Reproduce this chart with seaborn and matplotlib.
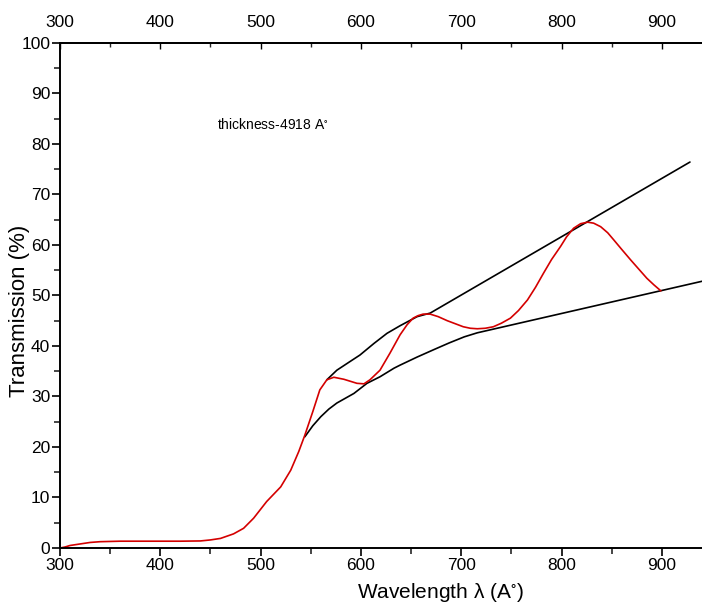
import matplotlib
matplotlib.use("Agg")
import matplotlib.pyplot as plt
import pandas as pd
import seaborn as sns

# ---------------- data ----------------
wl_meas = [300, 305, 310, 320, 330, 340, 360, 400, 420, 440, 450, 460, 473, 483,
           493, 506, 520, 530, 538, 544, 552, 559, 566, 573, 583, 596, 603, 609,
           619, 629, 639, 646, 652, 657, 662, 669, 677, 686, 694, 702, 709, 716,
           724, 732, 740, 749, 757, 766, 774, 782, 790, 799, 805, 812, 819, 826,
           832, 839, 846, 852, 860, 869, 877, 885, 892, 899]
t_meas = [0.0, 0.2, 0.5, 0.8, 1.1, 1.25, 1.35, 1.35, 1.35, 1.4, 1.6, 1.9, 2.8, 3.9,
          5.9, 9.2, 12.1, 15.4, 19.1, 22.3, 27.0, 31.3, 33.3, 33.8, 33.4, 32.6, 32.5, 33.3,
          35.2, 38.6, 42.2, 44.2, 45.5, 46.0, 46.3, 46.3, 45.8, 45.0, 44.4, 43.8, 43.5, 43.4,
          43.5, 43.8, 44.5, 45.5, 47.0, 49.1, 51.6, 54.4, 57.1, 59.7, 61.6, 63.3, 64.2, 64.5,
          64.3, 63.6, 62.4, 61.0, 59.1, 57.0, 55.2, 53.4, 52.1, 50.9]

wl_upper = [566, 576, 589, 599, 613, 626, 639, 656, 669, 928]
t_upper = [33.3, 35.2, 36.9, 38.2, 40.5, 42.5, 44.0, 45.8, 46.5, 76.4]

wl_lower = [544, 552, 560, 568, 576, 593, 606, 619, 633, 639, 656, 673, 688, 703, 716, 940]
t_lower = [22.0, 24.2, 26.0, 27.5, 28.7, 30.6, 32.6, 33.9, 35.6, 36.2, 37.8, 39.3, 40.6, 41.8, 42.6, 52.8]

x_ticks = [300, 400, 500, 600, 700, 800, 900]
x_minor = [350, 450, 550, 650, 750, 850]
y_ticks = [0, 10, 20, 30, 40, 50, 60, 70, 80, 90, 100]
y_minor = [5, 15, 25, 35, 45, 55, 65, 75, 85, 95]

# ---------------- style ----------------
sns.set_theme(style="ticks")
plt.rcParams['font.family'] = ['Liberation Sans', 'DejaVu Sans']
plt.rcParams['mathtext.fontset'] = 'stix'
plt.rcParams['text.color'] = 'black'
plt.rcParams['axes.labelcolor'] = 'black'

meas = pd.DataFrame({'wl': wl_meas, 't': t_meas})
upper = pd.DataFrame({'wl': wl_upper, 't': t_upper})
lower = pd.DataFrame({'wl': wl_lower, 't': t_lower})

fig = plt.figure(figsize=(7.02, 6.05), dpi=100)
ax = fig.add_axes([0.0855, 0.0942, 0.9145, 0.835])

line_kw = dict(lw=1.2, sort=False, solid_joinstyle='round', solid_capstyle='round')
sns.lineplot(x='wl', y='t', data=upper, color='black', ax=ax, **line_kw)
sns.lineplot(x='wl', y='t', data=lower, color='black', ax=ax, **line_kw)
sns.lineplot(x='wl', y='t', data=meas, color='#d40000', ax=ax, **line_kw)

ax.set_xlim(300, 940)
ax.set_ylim(0, 100)
ax.set_xticks(x_ticks)
ax.set_xticks(x_minor, minor=True)
ax.set_yticks(y_ticks)
ax.set_yticks(y_minor, minor=True)
ax.tick_params(axis='both', which='major', direction='out', length=6, width=1.2,
               labelsize=12.5, colors='black', pad=1)
ax.tick_params(axis='both', which='minor', direction='out', length=4, width=1.2)

ax.spines['right'].set_visible(False)
for s in ['left', 'bottom', 'top']:
    ax.spines[s].set_linewidth(1.4)
    ax.spines[s].set_color('black')

top = ax.secondary_xaxis('top')
top.set_xticks(x_ticks)
top.set_xticks(x_minor, minor=True)
top.tick_params(axis='x', which='major', direction='in', length=4, width=1.0,
                labelsize=12.5, pad=9, colors='black')
top.tick_params(axis='x', which='minor', direction='in', length=3, width=1.0)
top.spines['top'].set_linewidth(1.4)

ax.set_xlabel("Wavelength λ (A$^{\\circ}$)", fontsize=15)
ax.xaxis.set_label_coords(0.592, -0.066)
ax.set_ylabel("Transmission (%)", fontsize=16)
ax.yaxis.set_label_coords(-0.047, 0.469)

ax.text(456, 83, "thickness-4918 A$^{\\circ}$", fontsize=10)

fig.savefig("out.png", dpi=100)
